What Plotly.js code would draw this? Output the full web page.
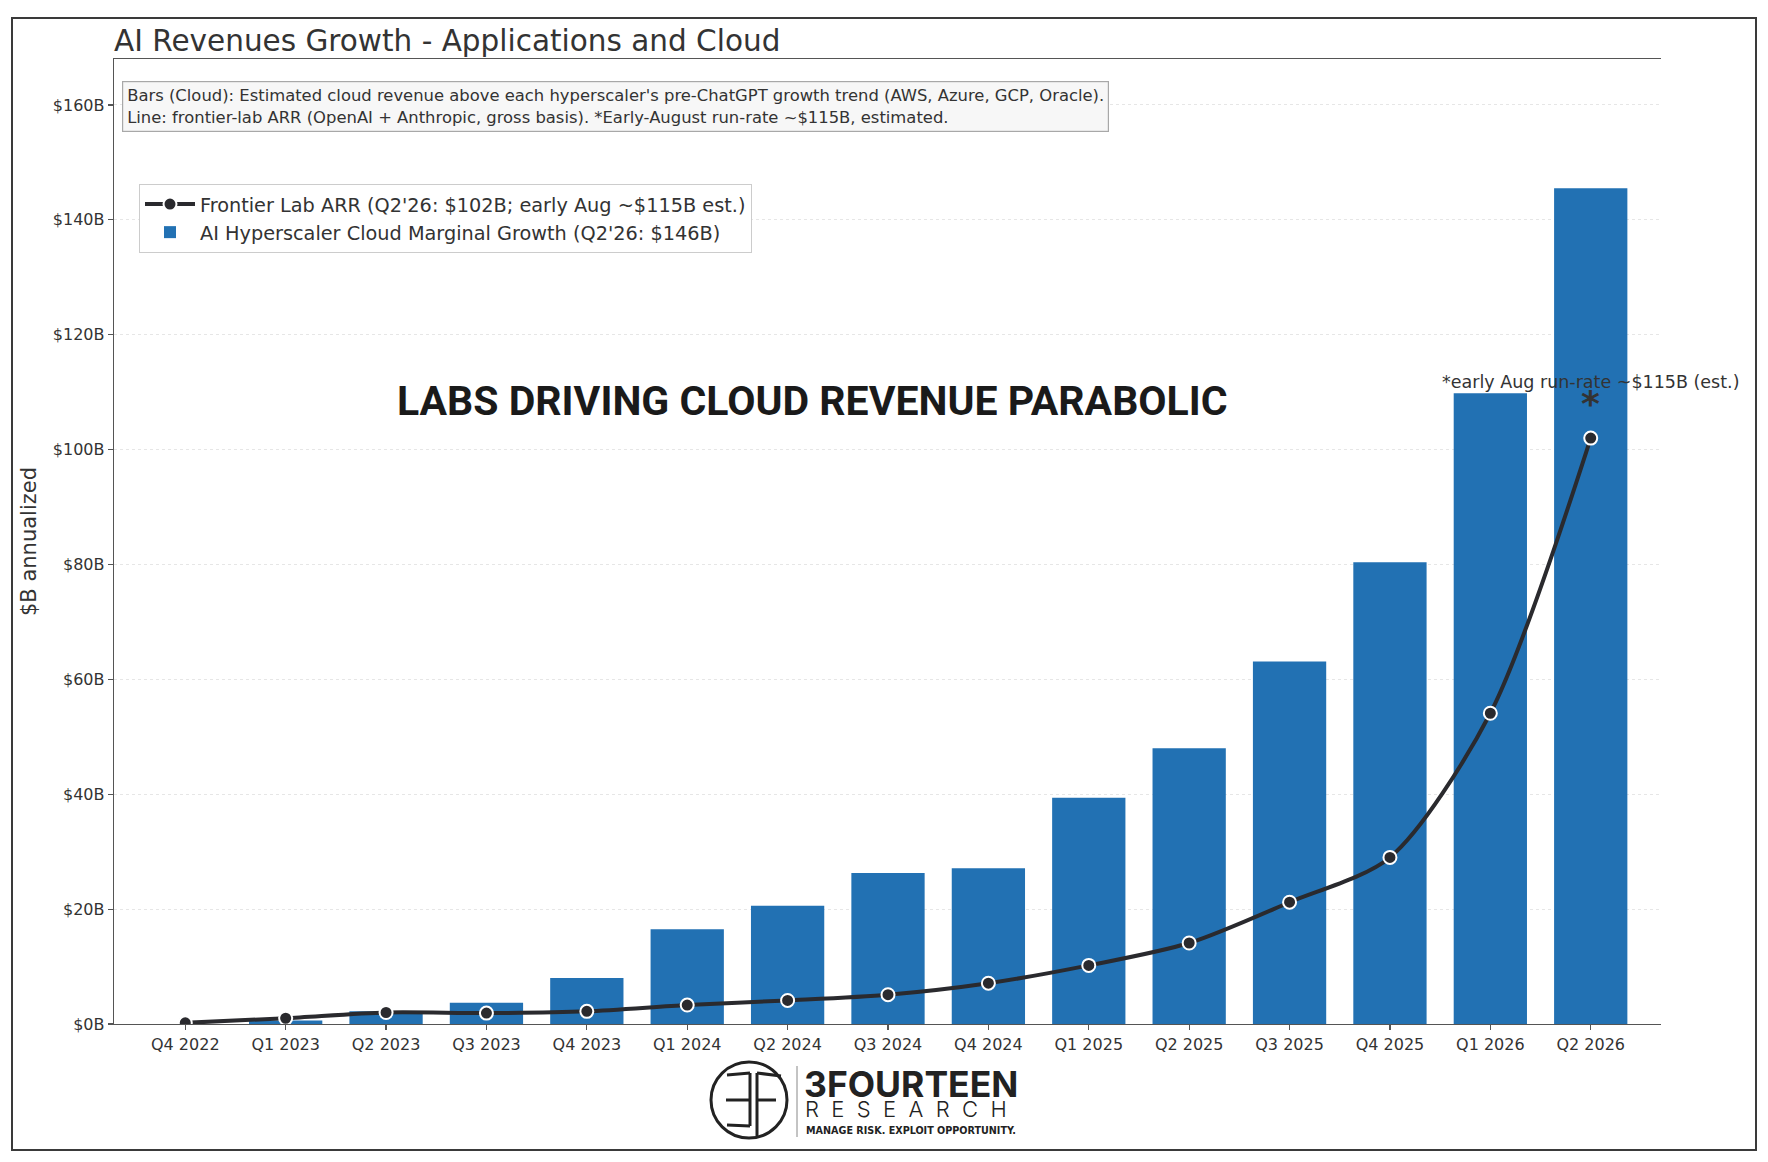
<!DOCTYPE html>
<html>
<head>
<meta charset="utf-8">
<script src="https://cdn.plot.ly/plotly-3.0.1.min.js"></script>
<style>
  html, body { margin: 0; padding: 0; background: #fff; }
  #chart { width: 1768px; height: 1162px; }
</style>
</head>
<body>
<div id="chart"></div>
<script>
// Data ($B annualized)
const quarters = ['Q4 2022', 'Q1 2023', 'Q2 2023', 'Q3 2023', 'Q4 2023', 'Q1 2024', 'Q2 2024', 'Q3 2024',
                  'Q4 2024', 'Q1 2025', 'Q2 2025', 'Q3 2025', 'Q4 2025', 'Q1 2026', 'Q2 2026'];
const cloudGrowth = [0, 0.6, 2.2, 3.7, 8.0, 16.5, 20.6, 26.3, 27.1, 39.4, 48.0, 63.1, 80.4, 109.8, 145.5];
const labArr = [0.2, 1.0, 2.0, 1.9, 2.2, 3.3, 4.1, 5.1, 7.1, 10.2, 14.1, 21.2, 29.0, 54.1, 102];
const yTicks = [0, 20, 40, 60, 80, 100, 120, 140, 160];
const yTickText = yTicks.map(v => '$' + v + 'B');

const W = 1768, H = 1162;
const M = {l: 114, r: 107, t: 59, b: 138};
const plotW = W - M.l - M.r, plotH = H - M.t - M.b;
// pixel -> paper helpers for decorations
const px = x => (x - M.l) / plotW;
const py = y => (H - M.b - y) / plotH;

const INK = '#333333';
const BAR = '#2271b3';
const LINE = '#2a2a2e';

const traces = [
    {
        type: 'scatter',
        mode: 'lines+markers',
        name: "Frontier Lab ARR (Q2'26: $102B; early Aug ~$115B est.)",
        x: quarters,
        y: labArr,
        line: {color: LINE, width: 4, shape: 'spline', smoothing: 0.8},
        marker: {color: LINE, size: 13, line: {color: '#ffffff', width: 2}},
        hoverinfo: 'skip'
    },
    {
        type: 'bar',
        name: "AI Hyperscaler Cloud Marginal Growth (Q2'26: $146B)",
        x: quarters,
        y: cloudGrowth,
        width: 0.73,
        marker: {color: BAR, line: {width: 0}},
        hoverinfo: 'skip'
    }
];

// logo strokes (3F monogram), pixel coords
function seg(x0, y0, x1, y1) {
    return {type: 'line', xref: 'paper', yref: 'paper', x0: px(x0), y0: py(y0), x1: px(x1), y1: py(y1),
            line: {color: '#222', width: 3}};
}

const shapes = [
    // outer frame
    {type: 'rect', xref: 'paper', yref: 'paper', x0: px(12), y0: py(1150), x1: px(1756), y1: py(18),
     line: {color: '#3a3a3a', width: 2}, layer: 'below'},
    // logo circle
    {type: 'circle', xref: 'paper', yref: 'paper', x0: px(711), y0: py(1138), x1: px(787), y1: py(1062),
     line: {color: '#222', width: 3}},
    seg(750, 1073, 750, 1126),
    seg(757, 1073, 757, 1136),
    seg(727, 1075, 750, 1073),
    seg(726, 1100, 750, 1100),
    seg(727, 1125, 750, 1126),
    seg(757, 1073, 781, 1076),
    seg(757, 1100, 776, 1100),
    // separator
    {type: 'line', xref: 'paper', yref: 'paper', x0: px(797), y0: py(1066), x1: px(797), y1: py(1137),
     line: {color: '#888', width: 1}}
];

const last = quarters.length - 1;

const annotations = [
    {
        xref: 'paper', yref: 'paper', x: px(122), y: py(81), xanchor: 'left', yanchor: 'top',
        text: "Bars (Cloud): Estimated cloud revenue above each hyperscaler's pre-ChatGPT growth trend (AWS, Azure, GCP, Oracle).<br>" +
              "Line: frontier-lab ARR (OpenAI + Anthropic, gross basis). *Early-August run-rate ~$115B, estimated.",
        align: 'left', showarrow: false,
        font: {size: 16.4, color: INK},
        bgcolor: '#f7f7f7', bordercolor: '#a8a8a8', borderwidth: 1.2, borderpad: 4
    },
    {
        xref: 'paper', yref: 'paper', x: px(812), y: py(401), xanchor: 'center', yanchor: 'middle',
        text: '<b>LABS DRIVING CLOUD REVENUE PARABOLIC</b>', showarrow: false,
        font: {family: 'Roboto, Lato, sans-serif', size: 41, color: '#1a1a1a'}
    },
    {
        x: quarters[last], y: labArr[last], xref: 'x', yref: 'y', yshift: 56,
        text: '*early Aug run-rate ~$115B (est.)', showarrow: false,
        font: {size: 17.5, color: INK}
    },
    {
        x: quarters[last], y: labArr[last], xref: 'x', yref: 'y', yshift: 35,
        text: '<b>*</b>', showarrow: false,
        font: {size: 36, color: INK}
    },
    // logo text
    {
        xref: 'paper', yref: 'paper', x: px(802), y: py(1084), xanchor: 'left', yanchor: 'middle',
        text: '<b>3FOURTEEN</b>', showarrow: false,
        font: {family: 'Inter', size: 35.5, color: '#222'}
    },
    {
        xref: 'paper', yref: 'paper', x: px(803), y: py(1109), xanchor: 'left', yanchor: 'middle',
        text: 'R  E  S  E  A  R  C  H', showarrow: false,
        font: {family: 'Inter', size: 22, color: '#222', weight: 300}
    },
    {
        xref: 'paper', yref: 'paper', x: px(804), y: py(1130), xanchor: 'left', yanchor: 'middle',
        text: '<b>MANAGE RISK. EXPLOIT OPPORTUNITY.</b>', showarrow: false,
        font: {family: 'DejaVu Sans Condensed, Roboto', size: 10.7, color: '#222'}
    }
];

const yCommon = {
    range: [0, 168],
    tickvals: yTicks,
    ticktext: yTickText,
    ticks: 'outside', ticklen: 5, tickwidth: 1.2, tickcolor: '#555',
    tickfont: {size: 16, color: INK},
    showline: true, linecolor: '#555', linewidth: 1.3,
    zeroline: false, fixedrange: true, automargin: false
};

const layout = {
    width: W, height: H,
    margin: M,
    paper_bgcolor: '#ffffff',
    plot_bgcolor: '#ffffff',
    font: {family: 'DejaVu Sans', color: INK},
    title: {
        text: 'AI Revenues Growth - Applications and Cloud',
        xref: 'paper', x: 0, xanchor: 'left',
        yref: 'container', y: 1 - 41 / H, yanchor: 'middle',
        font: {size: 29.5, color: INK}
    },
    showlegend: true,
    legend: {
        x: px(139), y: py(184), xanchor: 'left', yanchor: 'top',
        bgcolor: '#ffffff', bordercolor: '#cccccc', borderwidth: 1,
        font: {size: 19.3, color: INK}, traceorder: 'normal',
        itemwidth: 50
    },
    xaxis: {
        type: 'category',
        range: [-0.71, 14.7],
        ticks: 'outside', ticklen: 5, tickwidth: 1.2, tickcolor: '#555',
        tickfont: {size: 16, color: INK},
        showline: true, linecolor: '#555', linewidth: 1.3, mirror: true,
        showgrid: false, zeroline: false, fixedrange: true, automargin: false
    },
    yaxis: Object.assign({}, yCommon, {
        side: 'left',
        showgrid: true, gridcolor: '#e6e6e6', griddash: '3px,3px', gridwidth: 1,
        title: {text: '$B annualized', font: {size: 21, color: INK}, standoff: 10}
    }),
    yaxis2: Object.assign({}, yCommon, {
        side: 'right', overlaying: 'y', showgrid: false
    }),
    bargap: 0.27,
    shapes: shapes,
    annotations: annotations
};

Plotly.newPlot('chart', traces, layout, {staticPlot: true, displayModeBar: false});
</script>
</body>
</html>
